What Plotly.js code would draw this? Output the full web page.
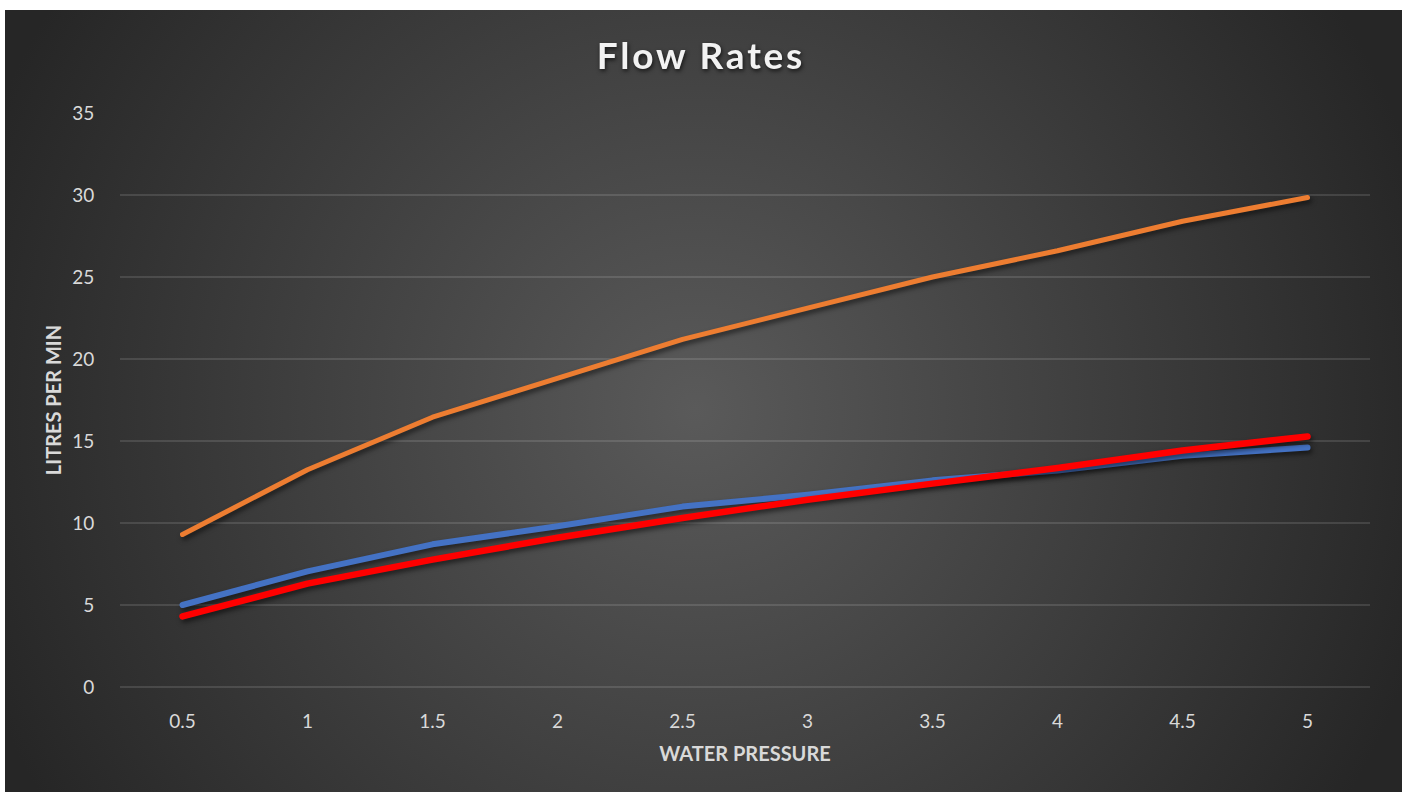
<!DOCTYPE html>
<html>
<head>
<meta charset="utf-8">
<script src="https://cdn.plot.ly/plotly-3.0.1.min.js"></script>
<style>
  html, body { margin: 0; padding: 0; background: #ffffff; }
  #frame {
    position: absolute; left: 5px; top: 10px; width: 1397px; height: 782px;
    background: radial-gradient(circle 760px at 690px 400px, #5a5a5a 0%, #262626 100%);
  }
  #chart { position: absolute; left: 0; top: 0; width: 1402px; height: 792px; }
  .scatterlayer .js-line {
    filter: drop-shadow(2px 3px 2.5px rgba(0,0,0,0.55));
    stroke-linecap: round; stroke-linejoin: round;
  }
  .gtitle { letter-spacing: 2.8px; filter: drop-shadow(1px 2px 2px rgba(0,0,0,0.7)); }
</style>
</head>
<body>
<div id="frame"></div>
<div id="chart"></div>
<script>
const pressure = ["0.5", "1", "1.5", "2", "2.5", "3", "3.5", "4", "4.5", "5"];
const orangeSeries = [9.3, 13.25, 16.45, 18.8, 21.2, 23.1, 25.0, 26.6, 28.4, 29.85];
const blueSeries   = [5.0, 7.05, 8.7, 9.8, 11.0, 11.72, 12.6, 13.2, 14.1, 14.6];
const redSeries    = [4.3, 6.3, 7.77, 9.1, 10.3, 11.42, 12.4, 13.35, 14.42, 15.28];
const yTicks = [0, 5, 10, 15, 20, 25, 30, 35];

const traces = [
  { x: pressure, y: orangeSeries, type: 'scatter', mode: 'lines', name: 'Series 1',
    line: { color: '#ED7D31', width: 5 } },
  { x: pressure, y: blueSeries, type: 'scatter', mode: 'lines', name: 'Series 2',
    line: { color: '#4472C4', width: 6 } },
  { x: pressure, y: redSeries, type: 'scatter', mode: 'lines', name: 'Series 3',
    line: { color: '#FF0000', width: 6.5 } }
];

const layout = {
  width: 1402, height: 792,
  paper_bgcolor: 'rgba(0,0,0,0)',
  plot_bgcolor: 'rgba(0,0,0,0)',
  showlegend: false,
  margin: { l: 120, r: 32, t: 113, b: 105 },
  font: { family: 'Lato, "Open Sans", sans-serif', color: '#d9d9d9' },
  title: {
    text: '<b>Flow Rates</b>',
    font: { family: 'Lato, "Open Sans", sans-serif', size: 37, color: '#f2f2f2' },
    x: 0.5, xref: 'container', xanchor: 'center',
    y: 57, yref: 'container', yanchor: 'middle'
  },
  xaxis: {
    type: 'category',
    range: [-0.5, 9.5],
    showgrid: false, zeroline: false, showline: false,
    ticks: 'outside', ticklen: 17, tickcolor: 'rgba(0,0,0,0)',
    tickfont: { family: 'Lato, sans-serif', size: 19, color: '#d9d9d9' },
    title: { text: '<b>WATER PRESSURE</b>', standoff: 16,
      font: { family: 'Lato, sans-serif', size: 20, color: '#d9d9d9' } }
  },
  yaxis: {
    range: [0, 35],
    tickvals: yTicks,
    ticktext: yTicks.map(String),
    showgrid: true, gridcolor: 'rgba(255,255,255,0.12)', gridwidth: 1.3,
    zeroline: true, zerolinecolor: 'rgba(255,255,255,0.12)', zerolinewidth: 1.3,
    showline: false,
    ticks: 'outside', ticklen: 21, tickcolor: 'rgba(0,0,0,0)',
    tickfont: { family: 'Lato, sans-serif', size: 19, color: '#d9d9d9' },
    title: { text: '<b>LITRES PER MIN</b>', standoff: 5,
      font: { family: 'Lato, sans-serif', size: 20, color: '#d9d9d9' } }
  }
};

Plotly.newPlot('chart', traces, layout, { displayModeBar: false, staticPlot: true });
</script>
</body>
</html>
